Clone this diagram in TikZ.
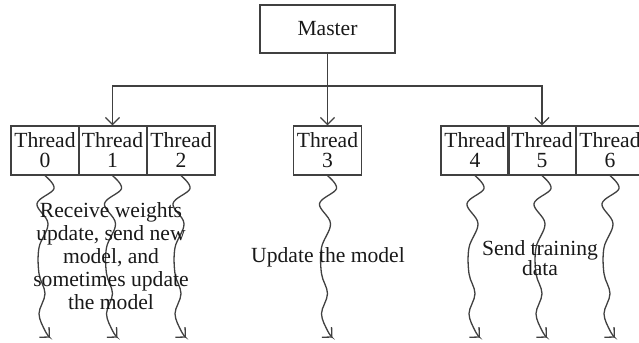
\documentclass[tikz,border=0pt]{standalone}
\usepackage{fontspec}
\setmainfont{Liberation Serif}
\usetikzlibrary{arrows.meta}
\begin{document}
\begin{tikzpicture}[x=0.5pt,y=-0.5pt,
  font=\fontsize{10.8}{10}\selectfont,
  edgeline/.style={draw=black!75, line width=0.65pt},
  headed/.style={-{Straight Barb[length=3.5pt,width=7pt]}},
  box/.style={edgeline, rectangle, inner sep=0pt, text=black!90, align=center},
  thread/.style={box, minimum width=34pt, minimum height=24.5pt},
  note/.style={text=black!90, align=center, inner sep=0pt},
  squiggle/.pic={
    \draw[edgeline, headed] plot[smooth, tension=0.6] coordinates
      {(0,0) (9,13) (-8,28) (3,48) (-6,72) (-6,98) (0,118) (-6,138) (0,155) (5,162)};
  }
]
\path[use as bounding box, clip] (0,0) rectangle (639,343);

% master process
\node[box, minimum width=67.5pt, minimum height=24pt] (m) at (327.5,29) {Master};

% worker threads
\node[thread] (t0) at (45,150.5)   {Thread\\0};
\node[thread] (t1) at (112.5,150.5) {Thread\\1};
\node[thread] (t2) at (181,150.5)  {Thread\\2};
\node[thread] (t3) at (327.5,150.5) {Thread\\3};
\node[thread] (t4) at (475,150.5)  {Thread\\4};
\node[thread] (t5) at (542,150.5)  {Thread\\5};
\node[thread] (t6) at (610,150.5)  {Thread\\6};

% distribution from the master
\coordinate (bus) at (327.5,86);
\draw[edgeline, headed] (m.south) -- (t3.north);
\draw[edgeline, headed] (bus) -| (t1.north);
\draw[edgeline, headed] (bus) -| (t5.north);

% thread activity
\foreach \t in {t0,t1,t2,t3,t4,t5,t6}
  \pic at (\t.south) {squiggle};

% descriptions
\node[note, font=\fontsize{10.8}{11.5}\selectfont] (d1) at (111,256)
  {Receive weights\\update, send new\\model, and\\sometimes update\\the model};
\node[note] (d2) at (328,257) {Update the model};
\node[note] (d3) at (540,258) {Send training\\data};
\end{tikzpicture}
\end{document}
